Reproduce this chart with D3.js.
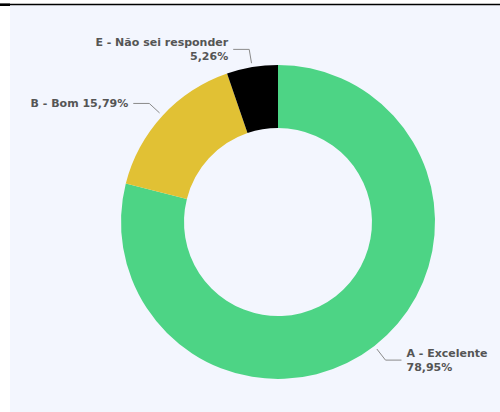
<!DOCTYPE html>
<html>
<head>
<meta charset="utf-8">
<script src="https://cdn.jsdelivr.net/npm/d3@7"></script>
<style>
  html, body { margin: 0; padding: 0; background: #fff; }
  svg { display: block; }
</style>
</head>
<body>
<div id="chart"></div>
<script>
// chart data
var categories = ["A - Excelente", "B - Bom", "E - Não sei responder"];
var values = [78.95, 15.79, 5.26];
var colors = ["#4dd485", "#e1c134", "#000000"];

var width = 500, height = 412;
var cx = 278, cy = 222;
var outerR = 157, innerR = 94;

var svg = d3.select("#chart").append("svg")
    .attr("width", width)
    .attr("height", height);

// panel
svg.append("rect")
    .attr("x", 10).attr("y", 5)
    .attr("width", width - 10).attr("height", height - 5)
    .attr("fill", "#f3f6fe");
svg.append("line")
    .attr("x1", 0).attr("x2", width)
    .attr("y1", 4.5).attr("y2", 4.5)
    .attr("stroke", "#000").attr("stroke-width", 1.5);
svg.append("rect")
    .attr("x", 0).attr("y", 3.5).attr("width", 10).attr("height", 2.5)
    .attr("fill", "#000");

var data = categories.map(function(c, i) {
    return { name: c, value: values[i], color: colors[i] };
});

var pie = d3.pie().sort(null).value(function(d) { return d.value; });
var arc = d3.arc().innerRadius(innerR).outerRadius(outerR);
var lineStart = d3.arc().innerRadius(outerR + 4).outerRadius(outerR + 4);
var lineMid = d3.arc().innerRadius(outerR + 18).outerRadius(outerR + 18);

var g = svg.append("g").attr("transform", "translate(" + cx + "," + cy + ")");
var arcs = pie(data);

g.selectAll("path.slice")
    .data(arcs)
    .enter().append("path")
    .attr("class", "slice")
    .attr("d", arc)
    .attr("fill", function(d) { return d.data.color; });

function fmt(v) { return v.toFixed(2).replace(".", ",") + "%"; }
function side(d) { return (d.startAngle + d.endAngle) / 2 < Math.PI ? 1 : -1; }

// leader lines
g.selectAll("polyline")
    .data(arcs)
    .enter().append("polyline")
    .attr("fill", "none")
    .attr("stroke", "#8a8a8a")
    .attr("stroke-width", 1)
    .attr("points", function(d) {
        var a = lineStart.centroid(d), b = lineMid.centroid(d);
        var c = [b[0] + side(d) * 16, b[1]];
        return [a, b, c].map(function(p) { return p.join(","); }).join(" ");
    });

// labels
var labelLines = [
    ["A - Excelente", fmt(values[0])],
    ["B - Bom " + fmt(values[1])],
    ["E - Não sei responder", fmt(values[2])]
];

var labels = g.selectAll("text.lbl")
    .data(arcs)
    .enter().append("text")
    .attr("class", "lbl")
    .attr("font-family", "'DejaVu Sans', sans-serif")
    .attr("font-weight", "bold")
    .attr("font-size", 11)
    .attr("fill", "#555")
    .attr("text-anchor", function(d) { return side(d) > 0 ? "start" : "end"; })
    .attr("transform", function(d) {
        var b = lineMid.centroid(d);
        return "translate(" + (b[0] + side(d) * 21) + "," + b[1] + ")";
    });

labels.each(function(d, i) {
    var lines = labelLines[i];
    var t = d3.select(this);
    var lh = 14.5;
    var y0 = -(lines.length - 1) * lh / 2;
    lines.forEach(function(s, j) {
        t.append("tspan")
            .attr("x", 0)
            .attr("y", y0 + j * lh)
            .attr("dy", "0.35em")
            .text(s);
    });
});
</script>
</body>
</html>
